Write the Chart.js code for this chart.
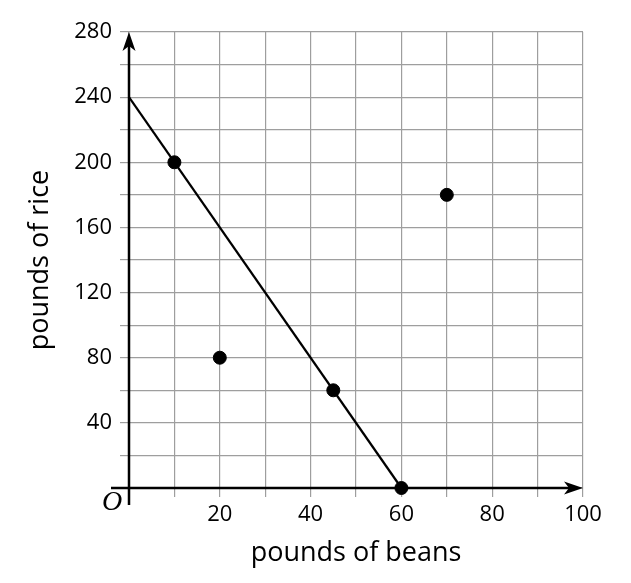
<!DOCTYPE html>
<html>
<head>
<meta charset="utf-8">
<script src="https://cdn.jsdelivr.net/npm/chart.js@4/dist/chart.umd.min.js"></script>
<style>
  html, body { margin:0; padding:0; background:#fff; }
  #wrap { width:631px; height:583px; }
</style>
</head>
<body>
<div id="wrap"><canvas id="grafico" width="631" height="583"></canvas></div>
<script>
// dados
const pontosX = [10, 20, 45, 60, 70];
const pontosY = [200, 80, 60, 0, 180];
const retaX = [0, 60];
const retaY = [240, 0];
const xLabels = [20, 40, 60, 80, 100];
const yLabels = [40, 80, 120, 160, 200, 240, 280];

const fonte = "'Open Sans', 'Noto Sans', sans-serif";

// eixos com setas + rótulo da origem
const eixos = {
  id: 'eixos',
  beforeDatasetsDraw(chart){
    const {ctx, scales:{x, y}} = chart;
    const x0 = x.getPixelForValue(0), y0 = y.getPixelForValue(0);
    const xMax = x.getPixelForValue(100), yMax = y.getPixelForValue(280);
    ctx.save();
    ctx.strokeStyle = '#000'; ctx.fillStyle = '#000'; ctx.lineWidth = 2.5;
    ctx.beginPath();
    ctx.moveTo(x0 - 18, y0); ctx.lineTo(xMax - 8, y0);
    ctx.moveTo(x0, y0 + 17); ctx.lineTo(x0, yMax + 8);
    ctx.stroke();
    // seta x
    ctx.beginPath();
    ctx.moveTo(xMax, y0); ctx.lineTo(xMax - 19, y0 - 6.5); ctx.lineTo(xMax - 14, y0); ctx.lineTo(xMax - 19, y0 + 6.5);
    ctx.closePath(); ctx.fill();
    // seta y
    ctx.beginPath();
    ctx.moveTo(x0, yMax); ctx.lineTo(x0 + 6.5, yMax + 19); ctx.lineTo(x0, yMax + 14); ctx.lineTo(x0 - 6.5, yMax + 19);
    ctx.closePath(); ctx.fill();
    // origem
    ctx.font = "italic 28px 'Liberation Serif', 'DejaVu Serif', serif";
    ctx.textAlign = 'center'; ctx.textBaseline = 'middle';
    ctx.fillText('O', x0 - 17, y0 + 15);
    ctx.restore();
  }
};

const ctx = document.getElementById('grafico').getContext('2d');
const grafico = new Chart(ctx, {
  type: 'scatter',
  data: {
    datasets: [
      {
        label: 'pontos',
        data: pontosX.map((v, i) => ({x: v, y: pontosY[i]})),
        backgroundColor: '#000', borderColor: '#000',
        pointRadius: 6.5, pointHoverRadius: 6.5, order: 0, clip: false
      },
      {
        label: 'reta',
        data: retaX.map((v, i) => ({x: v, y: retaY[i]})),
        showLine: true, borderColor: '#000', borderWidth: 2.2,
        pointRadius: 0, order: 1, clip: false
      }
    ]
  },
  options: {
    responsive: false,
    animation: false,
    devicePixelRatio: 1,
    layout: { padding: {left: 0, right: 48, top: 32, bottom: 0} },
    plugins: { legend: {display: false}, tooltip: {enabled: false} },
    scales: {
      x: {
        type: 'linear', min: 0, max: 100,
        border: {display: false},
        grid: {color: '#9e9e9e', lineWidth: 1.2, tickLength: 9},
        ticks: {
          stepSize: 10, autoSkip: false, maxRotation: 0, padding: 5,
          color: '#000', font: {family: fonte, size: 22},
          callback: v => xLabels.includes(v) ? String(v) : ''
        },
        title: {display: true, text: 'pounds of beans', color: '#000',
          font: {family: fonte, size: 27}, padding: {top: 0, bottom: 13}},
        afterFit(s){ s.height = 95; }
      },
      y: {
        type: 'linear', min: 0, max: 280,
        border: {display: false},
        grid: {color: '#9e9e9e', lineWidth: 1.2, tickLength: 9},
        ticks: {
          stepSize: 20, autoSkip: false, padding: 8,
          color: '#000', font: {family: fonte, size: 22},
          callback: v => yLabels.includes(v) ? String(v) : ''
        },
        title: {display: true, text: 'pounds of rice', color: '#000',
          font: {family: fonte, size: 27}, padding: {top: 24, bottom: 0}},
        afterFit(s){ s.width = 129; }
      }
    }
  },
  plugins: [eixos]
});
</script>
</body>
</html>
